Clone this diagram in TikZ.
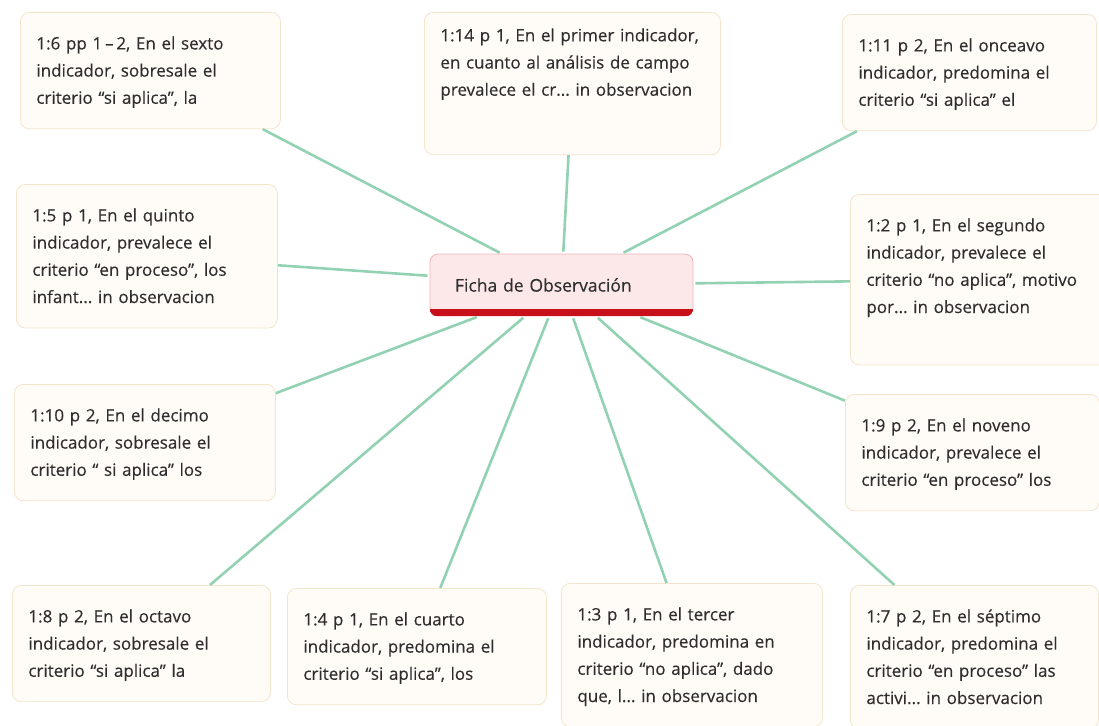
\documentclass[tikz,border=0pt]{standalone}
\usepackage{fontspec}
\setmainfont{Open Sans}
\newfontfamily\boxfont{Open Sans}[FakeBold=0.3]
\usepackage{tikz}
\frenchspacing
\definecolor{boxfill}{HTML}{FFFCF7}
\definecolor{boxline}{HTML}{F3E5CB}
\definecolor{linkgreen}{HTML}{92D2B3}
\definecolor{textgray}{HTML}{2E2E2E}
\definecolor{rootfill}{HTML}{FDE8E9}
\definecolor{rootline}{HTML}{F0B4B7}
\definecolor{rootbar}{HTML}{C8101A}
\newcommand{\boxtop}{21pt}
\tikzstyle{idea}=[draw=boxline,%
                  fill=boxfill,%
                  line width=0.8pt,%
                  rounded corners=9pt,%
                  anchor=north west,%
                  align=left,%
                  inner xsep=16pt,%
                  inner ysep=16pt,%
                  text=textgray,%
                  font=\boxfont\fontsize{17}{27.2}\selectfont,%
                  execute at begin node={\rule{0pt}{\boxtop}},%
                  execute at end node={\rule[-9pt]{0pt}{0pt}}]
\tikzstyle{extra}=[execute at end node={\rule[-36pt]{0pt}{0pt}}]
\tikzstyle{tall}=[/utils/exec={\renewcommand{\boxtop}{0pt}},%
                  execute at end node={\rule[-43pt]{0pt}{0pt}}]
\tikzstyle{central}=[draw=rootline, fill=rootfill, line width=0.8pt, rounded corners=8pt,
                     minimum width=263pt, minimum height=62pt, text width=213pt, align=left,
                     inner xsep=25pt, text=textgray, font=\boxfont\fontsize{17.5}{27}\selectfont]
\tikzstyle{link}=[draw=linkgreen, line width=2.6pt, shorten >=2pt]

\begin{document}
\begin{tikzpicture}[x=1pt,y=-1pt]
  \useasboundingbox (0,0) rectangle (1099,725);
  % centre
  \node[central] (root) at (561.5,285) {Ficha de Observación};
  \begin{scope}
    \clip[rounded corners=8pt] (root.north west) rectangle (root.south east);
    \fill[rootbar] ([yshift=7pt]root.south west) rectangle (root.south east);
  \end{scope}
  % top row
  \node[idea, text width=228pt] (ind6) at (20,12)
    {1:6 pp 1\,–\,2, En el sexto\\indicador, sobresale el\\criterio “si aplica”, la};
  \node[idea, tall, text width=264pt] (ind14) at (424,12)
    {1:14 p 1, En el primer indicador,\\en cuanto al análisis de campo\\prevalece el cr... in observacion};
  \node[idea, text width=222pt] (ind11) at (842,14)
    {1:11 p 2, En el onceavo\\indicador, predomina el\\criterio “si aplica” el};
  % middle rows
  \node[idea, text width=229pt] (ind5) at (16,184)
    {1:5 p 1, En el quinto\\indicador, prevalece el\\criterio “en proceso”, los\\infant... in observacion};
  \node[idea, extra, text width=230pt] (ind2) at (850,194)
    {1:2 p 1, En el segundo\\indicador, prevalece el\\criterio “no aplica”, motivo\\por... in observacion};
  \node[idea, text width=229pt] (ind10) at (14,384)
    {1:10 p 2, En el decimo\\indicador, sobresale el\\criterio “ si aplica” los};
  \node[idea, text width=222pt] (ind9) at (845,394)
    {1:9 p 2, En el noveno\\indicador, prevalece el\\criterio “en proceso” los};
  % bottom row
  \node[idea, text width=226pt] (ind8) at (12,585)
    {1:8 p 2, En el octavo\\indicador, sobresale el\\criterio “si aplica” la};
  \node[idea, text width=227pt] (ind4) at (287,588)
    {1:4 p 1, En el cuarto\\indicador, predomina el\\criterio “si aplica”, los};
  \node[idea, text width=229pt] (ind3) at (561,583)
    {1:3 p 1, En el tercer\\indicador, predomina en\\criterio “no aplica”, dado\\que, l... in observacion};
  \node[idea, text width=216pt] (ind7) at (850,585)
    {1:7 p 2, En el séptimo\\indicador, predomina el\\criterio “en proceso” las\\activi... in observacion};
  % links
  \draw[link] (ind6) -- (root);
  \draw[link] (ind14) -- (root);
  \draw[link] (ind11) -- (root);
  \draw[link] (ind5) -- (root);
  \draw[link] (ind2) -- (root);
  \draw[link] (ind10) -- (root);
  \draw[link] (ind9) -- (root);
  \draw[link] (ind8) -- (root);
  \draw[link] (ind4) -- (root);
  \draw[link] (ind3) -- (root);
  \draw[link] (ind7) -- (root);
\end{tikzpicture}
\end{document}
